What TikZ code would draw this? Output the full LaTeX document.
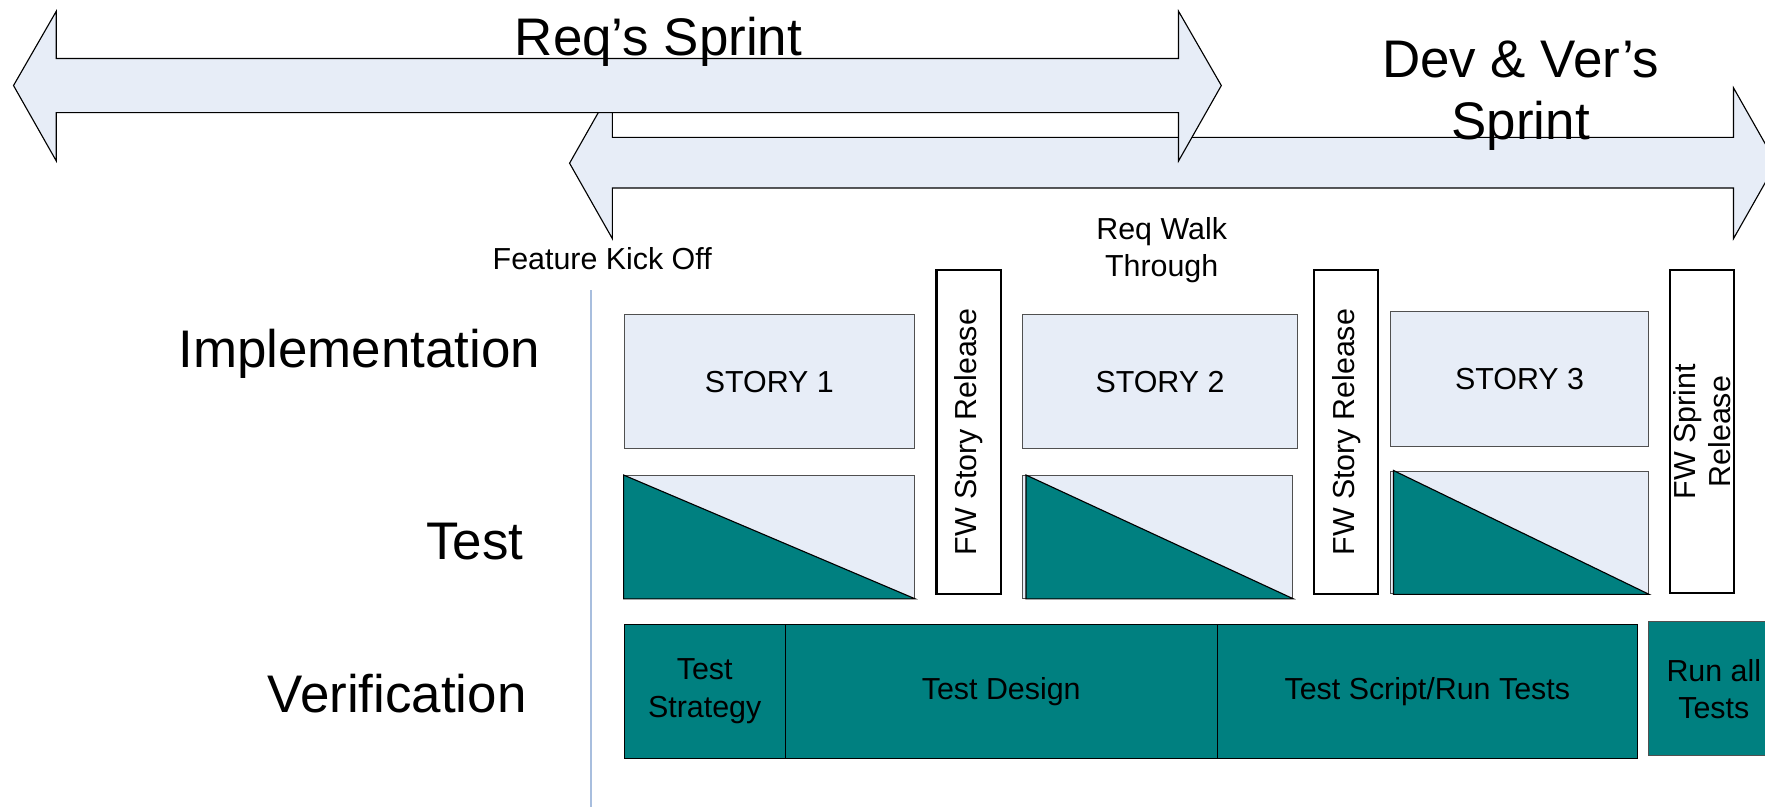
\documentclass[tikz,border=0pt]{standalone}
\usepackage{fontspec}
\setmainfont{Liberation Sans}
\definecolor{lightfill}{RGB}{231,237,247}
\definecolor{tealfill}{RGB}{0,128,128}
\definecolor{boxedge}{RGB}{80,80,80}
\definecolor{axisline}{RGB}{168,190,222}
\tikzset{
  bigtext/.style={font=\fontsize{47}{55}\selectfont, inner sep=0pt},
  smalltext/.style={font=\fontsize{27}{33}\selectfont, inner sep=0pt, align=center},
  sprintarrow/.style={draw=black, line width=1pt, fill=lightfill, line join=miter},
  storybox/.style={draw=boxedge, line width=1pt, fill=lightfill, anchor=north west, inner sep=0pt,
    font=\fontsize{27}{33}\selectfont},
  testbox/.style={draw=boxedge, line width=1pt, fill=lightfill, anchor=north west, inner sep=0pt},
  relbox/.style={draw=black, line width=2pt, fill=white, rotate=90, inner sep=0pt,
    minimum width=288pt, minimum height=57pt, align=center, font=\fontsize{27}{31}\selectfont},
  verbox/.style={draw=black, line width=1pt, fill=tealfill, anchor=north west, inner sep=0pt,
    align=center, font=\fontsize{27}{33}\selectfont},
}
\begin{document}
\begin{tikzpicture}[x=1pt,y=-1pt]
\useasboundingbox (0,0) rectangle (1568,717);
\begin{scope}
\clip (0,0) rectangle (1568,717);
% lower arrow (Dev & Ver's Sprint)
\draw[sprintarrow] (506,145) -- (544,78) -- (544,122) -- (1540,122) -- (1540,78) -- (1578,145)
  -- (1540,212) -- (1540,167) -- (544,167) -- (544,212) -- cycle;
% upper arrow (Req's Sprint)
\draw[sprintarrow] (12,76) -- (50,10) -- (50,52) -- (1047,52) -- (1047,10) -- (1085,76)
  -- (1047,143) -- (1047,100) -- (50,100) -- (50,143) -- cycle;

\node[bigtext] (reqs) at (585,37) {Req’s Sprint};
\node[bigtext, align=center, font=\fontsize{47}{55}\selectfont] (devs) at (1351,85) {Dev \& Ver’s\\Sprint};

\node[smalltext] (kick) at (535,230) {Feature Kick Off};
\node[smalltext] (walk) at (1032,222) {Req Walk\\Through};

% timeline axis
\coordinate (axtop) at (525,258);
\coordinate (axbot) at (525,717);
\draw[axisline, line width=1.2pt] (axtop) -- (axbot);

% row labels
\node[bigtext, anchor=east] (impl) at (480,314) {Implementation};
\node[bigtext, anchor=east] (test) at (465,481) {Test};
\node[bigtext, anchor=east] (verif) at (468,616) {Verification};

% stories
\node[storybox, minimum width=258pt, minimum height=119pt] (s1) at (554,279) {STORY 1};
\node[storybox, minimum width=244pt, minimum height=119pt] (s2) at (908,279) {STORY 2};
\node[storybox, minimum width=229pt, minimum height=120pt] (s3) at (1235,276) {STORY 3};

% test boxes
\node[testbox, minimum width=258pt, minimum height=109pt] (t1) at (554,422) {};
\node[testbox, minimum width=240pt, minimum height=109pt] (t2) at (908,422) {};
\node[testbox, minimum width=229pt, minimum height=109pt] (t3) at (1235,418) {};
\foreach \t/\o in {t1/0,t2/3.5,t3/3}{
  \filldraw[fill=tealfill, draw=black, line width=1pt, line join=miter]
    ([xshift=\o pt]\t.north west) -- (\t.south east) -- ([xshift=\o pt]\t.south west) -- cycle;
}

% release boxes
\node[relbox] (r1) at (860.5,384) {FW Story Release};
\node[relbox] (r2) at (1196,384) {FW Story Release};
\node[relbox, minimum width=287pt] (r3) at (1512,383.5) {FW Sprint\\Release};

% verification
\node[verbox, minimum width=143pt, minimum height=119pt] (v1) at (554,554) {Test\\Strategy};
\node[verbox, minimum width=384pt, minimum height=119pt] (v2) at (697,554) {Test Design};
\node[verbox, minimum width=373pt, minimum height=119pt] (v3) at (1081,554) {Test Script/Run Tests};
\node[verbox, draw=boxedge, minimum width=116pt, minimum height=119pt] (v4) at (1464,552) {Run all\\Tests};
\end{scope}
\end{tikzpicture}
\end{document}
